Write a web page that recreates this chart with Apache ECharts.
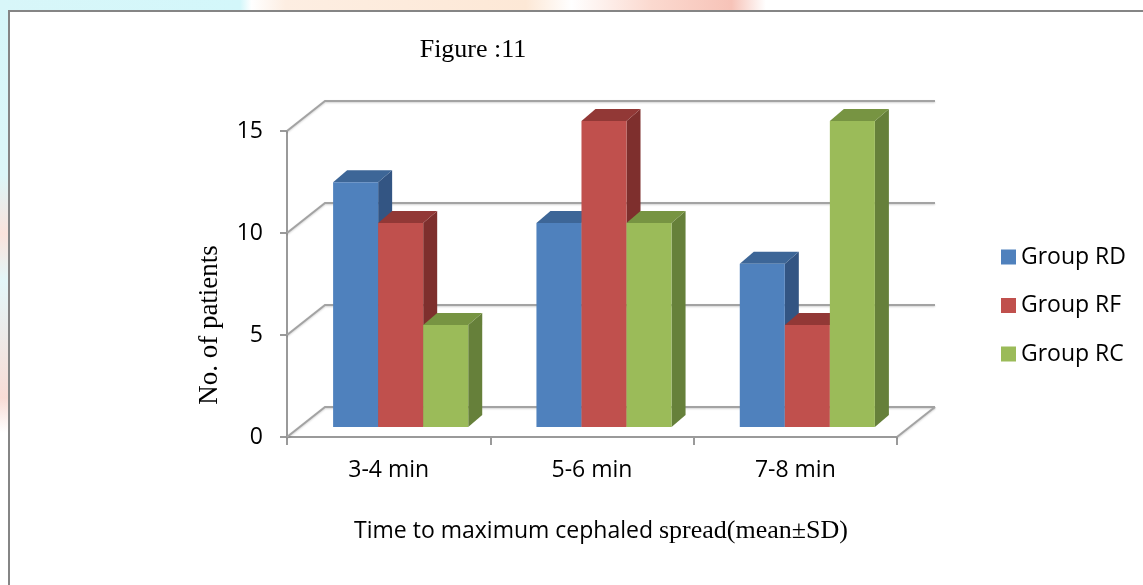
<!DOCTYPE html>
<html>
<head>
<meta charset="utf-8">
<script src="https://cdn.jsdelivr.net/npm/echarts@6/dist/echarts.min.js"></script>
<style>
  html, body { margin: 0; padding: 0; background: #fff; }
  #chart { width: 1143px; height: 585px; }
</style>
</head>
<body>
<div id="chart"></div>
<script>
// Data
const categories = ['3-4 min', '5-6 min', '7-8 min'];
const groupNames = ['Group RD', 'Group RF', 'Group RC'];
const groupRD = [12, 10, 8];
const groupRF = [10, 15, 5];
const groupRC = [5, 10, 15];
const yTicks = [0, 5, 10, 15];

// Face colours for each group: front, side, top
const palette = [
  { front: '#4F81BD', side: '#335583', top: '#3D6697' },
  { front: '#C0504D', side: '#7E2F2D', top: '#923836' },
  { front: '#9BBB59', side: '#66803A', top: '#779442' }
];

// Pseudo-3D geometry (pixels)
const WALL_DX = 38, WALL_DY = -30;   // depth of the back wall
const FRONT_DX = 12, FRONT_DY = -10; // bar front plane inside the box
const BAR_DX = 14, BAR_DY = -12;     // bar depth
const BAR_FRAC = 0.2215;             // bar width as share of a category band

const chart = echarts.init(document.getElementById('chart'), null, { renderer: 'canvas' });

function wallItem(params, api) {
  const cs = params.coordSys;
  const v = api.value(1);
  const p = api.coord([0, v]);
  const x0 = cs.x, x1 = cs.x + cs.width;
  const y = p[1];
  const style = {
    stroke: '#a3a3a3', lineWidth: 2, fill: null,
    shadowBlur: 2, shadowColor: 'rgba(0,0,0,0.18)', shadowOffsetY: 1
  };
  const children = [{
    type: 'polyline',
    shape: { points: [[x0, y], [x0 + WALL_DX, y + WALL_DY], [x1 + WALL_DX, y + WALL_DY]] },
    style: style
  }];
  if (v === 0) {
    children.push({
      type: 'line',
      shape: { x1: x1, y1: y, x2: x1 + WALL_DX, y2: y + WALL_DY },
      style: style
    });
  }
  return { type: 'group', children: children };
}

function barRenderer(k) {
  const c = palette[k];
  return function (params, api) {
    const idx = api.value(0);
    const val = api.value(1);
    const base = api.coord([idx, 0]);
    const top = api.coord([idx, val]);
    const band = api.size([1, 0])[0];
    const bw = band * BAR_FRAC;
    const xl = base[0] + FRONT_DX - 1.5 * bw + k * bw;
    const xr = xl + bw;
    const yb = base[1] + FRONT_DY;
    const yt = top[1] + FRONT_DY;
    return {
      type: 'group',
      children: [
        {
          type: 'polygon',
          shape: { points: [[xr, yt], [xr + BAR_DX, yt + BAR_DY], [xr + BAR_DX, yb + BAR_DY], [xr, yb]] },
          style: { fill: c.side }
        },
        {
          type: 'polygon',
          shape: { points: [[xl, yt], [xl + BAR_DX, yt + BAR_DY], [xr + BAR_DX, yt + BAR_DY], [xr, yt]] },
          style: { fill: c.top }
        },
        {
          type: 'rect',
          shape: { x: xl, y: yt, width: bw, height: yb - yt },
          style: { fill: c.front }
        }
      ]
    };
  };
}

const groups = [groupRD, groupRF, groupRC];

const series = [{
  type: 'custom',
  name: 'wall',
  renderItem: wallItem,
  data: yTicks.map(v => [0, v]),
  encode: { x: 0, y: 1 },
  silent: true,
  z: 1
}];
groups.forEach((vals, k) => {
  series.push({
    type: 'custom',
    name: groupNames[k],
    renderItem: barRenderer(k),
    data: vals.map((v, i) => [i, v]),
    encode: { x: 0, y: 1 },
    itemStyle: { color: palette[k].front },
    z: 2 + k
  });
});

const option = {
  animation: false,
  backgroundColor: '#ffffff',
  grid: { left: 287, top: 131, width: 610, height: 306 },
  xAxis: {
    type: 'category',
    data: categories,
    boundaryGap: true,
    axisLine: { show: true, lineStyle: { color: '#9a9a9a', width: 2 } },
    axisTick: { show: true, length: 8, lineStyle: { color: '#9a9a9a', width: 2 } },
    axisLabel: { color: '#000', fontFamily: 'Open Sans', fontSize: 23, margin: 22 },
    splitLine: { show: false }
  },
  yAxis: {
    type: 'value',
    min: 0, max: 15, interval: 5,
    axisLine: { show: true, lineStyle: { color: '#9a9a9a', width: 2 } },
    axisTick: { show: true, length: 7, lineStyle: { color: '#9a9a9a', width: 2 } },
    axisLabel: { color: '#000', fontFamily: 'Open Sans', fontSize: 23, margin: 24 },
    splitLine: { show: false }
  },
  legend: {
    data: groupNames,
    orient: 'vertical',
    left: 996, top: 240,
    icon: 'rect',
    itemWidth: 15, itemHeight: 15,
    itemGap: 24.5,
    textStyle: { color: '#000', fontFamily: 'Open Sans', fontSize: 23, lineHeight: 24 }
  },
  graphic: [
    // backdrop strips around the frame
    { type: 'rect', silent: true, z: -10, shape: { x: 0, y: 0, width: 8, height: 585 },
      style: { fill: new echarts.graphic.LinearGradient(0, 0, 0, 1, [
        { offset: 0, color: '#d6f6f9' }, { offset: 0.3, color: '#dcf6f8' },
        { offset: 0.4, color: '#fbe3dc' }, { offset: 0.48, color: '#e3f7f9' },
        { offset: 0.68, color: '#f9dcd6' }, { offset: 0.74, color: '#ffffff' },
        { offset: 1, color: '#ffffff' }]) } },
    { type: 'rect', silent: true, z: -10, shape: { x: 0, y: 0, width: 1143, height: 10 },
      style: { fill: new echarts.graphic.LinearGradient(0, 0, 1, 0, [
        { offset: 0, color: '#d8f6f9' }, { offset: 0.21, color: '#d3f7fa' },
        { offset: 0.22, color: '#ffffff' }, { offset: 0.25, color: '#fdeee2' },
        { offset: 0.46, color: '#fde8d6' }, { offset: 0.5, color: '#ffffff' },
        { offset: 0.57, color: '#fbd9cf' }, { offset: 0.64, color: '#f7c3b8' },
        { offset: 0.67, color: '#ffffff' }, { offset: 1, color: '#ffffff' }]) } },
    // frame
    { type: 'rect', silent: true, z: -5, shape: { x: 9, y: 11, width: 1150, height: 600 },
      style: { fill: '#ffffff', stroke: '#858585', lineWidth: 2 } },
    // titles
    { type: 'text', silent: true, x: 473, y: 50,
      style: { text: 'Figure :11', font: '26px "Liberation Serif"', fill: '#000',
               align: 'center', verticalAlign: 'middle' } },
    { type: 'text', silent: true, x: 210, y: 325, rotation: Math.PI / 2,
      style: { text: 'No. of patients', font: '27px "Liberation Serif"', fill: '#000',
               align: 'center', verticalAlign: 'middle' } },
    { type: 'text', silent: true, x: 601, y: 531,
      style: {
        text: '{a|Time to maximum cephaled }{b|spread(mean±SD)}',
        align: 'center', verticalAlign: 'middle', fill: '#000',
        rich: {
          a: { fontFamily: 'Open Sans', fontSize: 23, fill: '#000' },
          b: { fontFamily: 'Liberation Serif', fontSize: 26, fill: '#000' }
        }
      } }
  ],
  series: series
};

chart.setOption(option);
</script>
</body>
</html>
